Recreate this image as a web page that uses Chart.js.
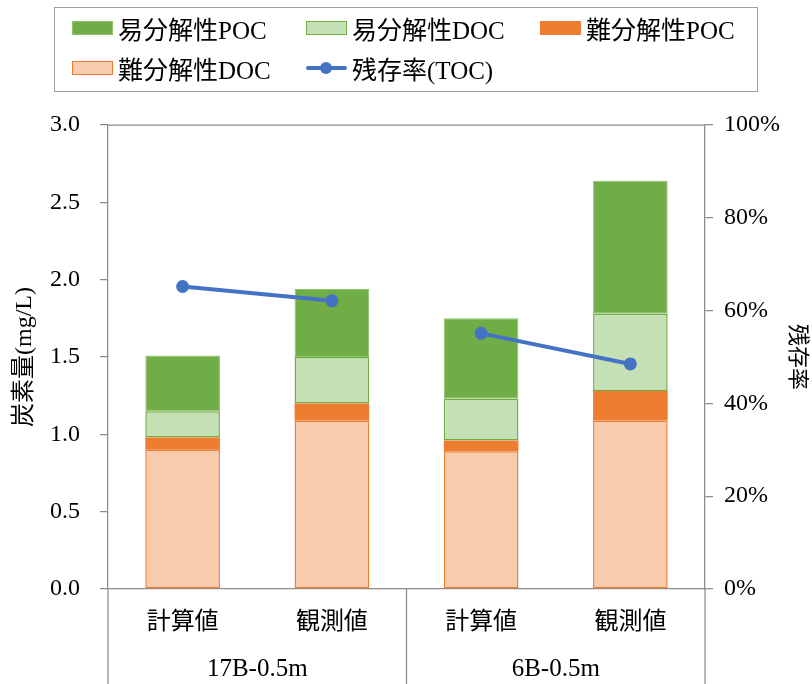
<!DOCTYPE html>
<html>
<head>
<meta charset="utf-8">
<script src="https://cdn.jsdelivr.net/npm/chart.js@4"></script>
<style>
html,body{margin:0;padding:0;background:#fff;}
#wrap{position:relative;width:812px;height:684px;}
#c{position:absolute;left:0;top:0;}
#legend{position:absolute;left:54px;top:7px;width:704px;height:85px;border:1.5px solid #a0a0a0;box-sizing:border-box;
  font-family:'Liberation Serif','Noto Sans CJK JP',serif;font-size:25px;color:#000;}
.item{position:absolute;display:flex;align-items:center;height:30px;white-space:nowrap;}
.sw{width:41px;height:14px;box-sizing:border-box;margin-right:5px;position:relative;flex:none;}
</style>
</head>
<body>
<div id="wrap">
<canvas id="c" width="812" height="684"></canvas>
<div id="legend"></div>
</div>
<script>
// ---- data ----
const categories = ['計算値', '観測値', '計算値', '観測値'];
const groups = ['17B-0.5m', '6B-0.5m'];
const refractoryDOC = [0.90, 1.09, 0.89, 1.09];   // 難分解性DOC
const refractoryPOC = [0.08, 0.11, 0.07, 0.19];   // 難分解性POC
const labileDOC     = [0.17, 0.30, 0.27, 0.50];   // 易分解性DOC
const labilePOC     = [0.36, 0.44, 0.52, 0.86];   // 易分解性POC
const remainingTOC  = [65.2, 62.1, 55.1, 48.5];   // 残存率(TOC) %

const seriesNames = ['易分解性POC', '易分解性DOC', '難分解性POC', '難分解性DOC', '残存率(TOC)'];

const axisColor = '#8c8c8c';
const FONT = "'Liberation Serif','Noto Sans CJK JP',serif";
Chart.defaults.font.family = FONT;
Chart.defaults.font.size = 24;
Chart.defaults.color = '#000';

const frame = {
  id: 'frame',
  afterDraw(chart) {
    const {ctx, chartArea: a, scales: {x}} = chart;
    ctx.save();
    ctx.strokeStyle = axisColor;
    ctx.lineWidth = 1.25;
    ctx.beginPath();
    ctx.moveTo(a.left, a.top); ctx.lineTo(a.right, a.top);
    const mid = (x.getPixelForTick(1) + x.getPixelForTick(2)) / 2;
    [a.left, mid, a.right].forEach(px => {
      ctx.moveTo(px, a.bottom); ctx.lineTo(px, chart.height);
    });
    ctx.stroke();
    ctx.restore();
  }
};

const datasets = [
  {type: 'line', label: seriesNames[4], data: remainingTOC, yAxisID: 'y1', xAxisID: 'x', order: 0,
   borderColor: '#4472C4', backgroundColor: '#4472C4', borderWidth: 4, pointRadius: 6.5,
   pointBackgroundColor: '#4472C4', pointBorderWidth: 0, tension: 0,
   // no connecting segment between the two site groups
   segment: {borderColor: c => (c.p0DataIndex === 1 ? 'rgba(0,0,0,0)' : undefined)}},
  {type: 'bar', label: seriesNames[3], data: refractoryDOC, yAxisID: 'y', order: 1,
   backgroundColor: '#F8CBAD', borderColor: '#ED7D31', borderWidth: 1.5, borderSkipped: false},
  {type: 'bar', label: seriesNames[2], data: refractoryPOC, yAxisID: 'y', order: 1,
   backgroundColor: '#ED7D31', borderColor: '#ED7D31', borderWidth: 0, borderSkipped: false},
  {type: 'bar', label: seriesNames[1], data: labileDOC, yAxisID: 'y', order: 1,
   backgroundColor: '#C5E0B4', borderColor: '#70AD47', borderWidth: 1.5, borderSkipped: false},
  {type: 'bar', label: seriesNames[0], data: labilePOC, yAxisID: 'y', order: 1,
   backgroundColor: '#70AD47', borderColor: '#8CC46A', borderWidth: 1, borderSkipped: false}
];
datasets.forEach(d => { if (d.type === 'bar') { d.barPercentage = 0.5; d.categoryPercentage = 1.0; } });

const chart = new Chart(document.getElementById('c'), {
  data: {labels: categories, datasets},
  options: {
    responsive: false,
    animation: false,
    layout: {padding: {top: 125, left: 0, right: 0, bottom: 0}},
    plugins: {legend: {display: false}, tooltip: {enabled: false}},
    scales: {
      x: {
        type: 'category', position: 'bottom', offset: true, stacked: true,
        grid: {display: false},
        border: {color: axisColor, width: 1.25},
        ticks: {padding: 11, font: {size: 24}, color: '#000'},
        afterFit: s => { s.height = 52; }
      },
      x2: {
        type: 'category', labels: groups, position: 'bottom', offset: true,
        grid: {display: false},
        border: {display: false},
        ticks: {padding: 5, font: {size: 25}, color: '#000'},
        afterFit: s => { s.height = 43; }
      },
      y: {
        position: 'left', stacked: true, min: 0, max: 3,
        ticks: {stepSize: 0.5, padding: 20, callback: v => Number(v).toFixed(1), font: {size: 24}},
        grid: {drawOnChartArea: false, tickLength: 8, color: axisColor, lineWidth: 1.25},
        border: {color: axisColor, width: 1.25},
        title: {display: true, text: '炭素量(mg/L)', font: {size: 24}, padding: {top: 10, bottom: 0}},
        afterFit: s => { s.width = 108; }
      },
      y1: {
        position: 'right', min: 0, max: 100,
        ticks: {stepSize: 20, padding: 11, callback: v => v + '%', font: {size: 24}},
        grid: {drawOnChartArea: false, tickLength: 8, color: axisColor, lineWidth: 1.25},
        border: {color: axisColor, width: 1.25},
        title: {display: true, text: '残存率', font: {size: 22}, padding: {top: 2, bottom: 0}},
        afterFit: s => { s.width = 107; }
      }
    }
  },
  plugins: [frame]
});

// ---- HTML legend built from the datasets ----
const legendEl = document.getElementById('legend');
const slots = [[17, 5], [251, 5], [485, 5], [17, 45], [251, 45]];
seriesNames.forEach((name, i) => {
  const ds = chart.data.datasets.find(d => d.label === name);
  const item = document.createElement('div');
  item.className = 'item';
  item.style.left = slots[i][0] + 'px';
  item.style.top = slots[i][1] + 'px';
  const sw = document.createElement('div');
  sw.className = 'sw';
  if (ds.type === 'line') {
    const ln = document.createElement('div');
    ln.style.cssText = `position:absolute;left:0;right:0;top:5px;height:4px;background:${ds.borderColor};border-radius:2px;`;
    const dot = document.createElement('div');
    dot.style.cssText = `position:absolute;left:14px;top:1px;width:12px;height:12px;border-radius:50%;background:${ds.borderColor};`;
    sw.appendChild(ln); sw.appendChild(dot);
  } else {
    sw.style.background = ds.backgroundColor;
    if (ds.borderWidth) sw.style.border = `1.5px solid ${ds.borderColor}`;
  }
  const tx = document.createElement('span');
  tx.textContent = name;
  item.appendChild(sw); item.appendChild(tx);
  legendEl.appendChild(item);
});
</script>
</body>
</html>
